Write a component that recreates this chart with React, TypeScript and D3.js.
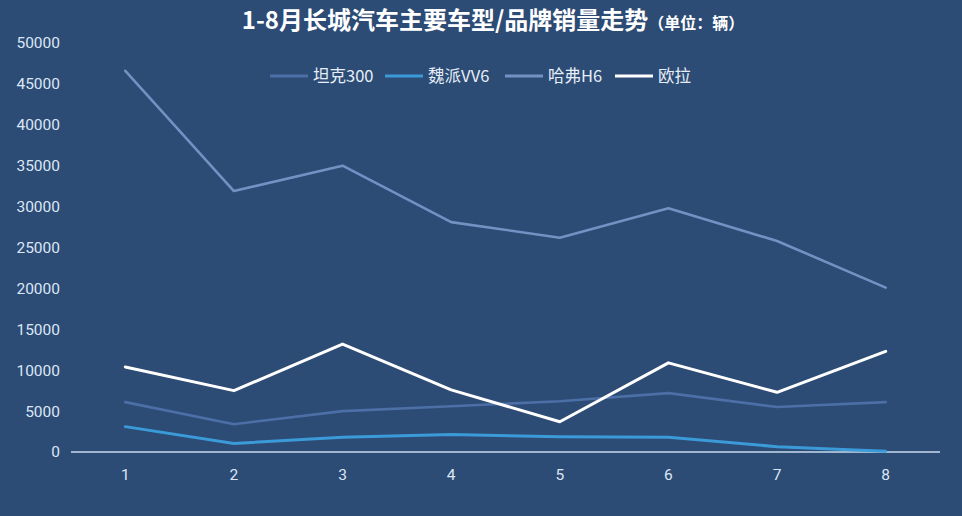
import React from "react";
import * as d3 from "d3";

const months = ["1", "2", "3", "4", "5", "6", "7", "8"];
const tank300 = [6100, 3400, 5000, 5600, 6200, 7200, 5500, 6100];
const weyVV6 = [3100, 1050, 1800, 2150, 1850, 1800, 650, 100];
const havalH6 = [46600, 31900, 35000, 28100, 26200, 29800, 25800, 20100];
const ora = [10400, 7500, 13200, 7600, 3700, 10900, 7300, 12300];
const yTicks = [0, 5000, 10000, 15000, 20000, 25000, 30000, 35000, 40000, 45000, 50000];
const seriesNames = ["坦克300", "魏派VV6", "哈弗H6", "欧拉"];

const W = 962;
const H = 516;
const margin = { left: 71, right: 22, top: 43, bottom: 64 };

export default function App() {
  const x = d3
    .scaleBand<string>()
    .domain(months)
    .range([margin.left, W - margin.right]);
  const y = d3
    .scaleLinear()
    .domain([0, 50000])
    .range([H - margin.bottom, margin.top]);
  const cx = (m: string) => (x(m) ?? 0) + x.bandwidth() / 2;
  const line = d3
    .line<number>()
    .x((_, i) => cx(months[i]))
    .y((v) => y(v));

  const series = [
    { name: seriesNames[0], data: tank300, color: "#4b6fa6", width: 2.6 },
    { name: seriesNames[1], data: weyVV6, color: "#3b9ad8", width: 3 },
    { name: seriesNames[2], data: havalH6, color: "#7391c2", width: 2.6 },
    { name: seriesNames[3], data: ora, color: "#ffffff", width: 3 },
  ];
  const legendX = [270, 385, 505, 615];
  const font = "'Noto Sans CJK SC', 'Noto Sans', sans-serif";

  return (
    <div style={{ position: "fixed", left: 0, top: 0, width: W, height: H }}>
      <svg width={W} height={H} style={{ display: "block" }}>
        <rect x={0} y={0} width={W} height={H} fill="#2c4b75" />
        <text
          x={493}
          y={21}
          dy="0.35em"
          textAnchor="middle"
          fill="#ffffff"
          fontFamily={font}
          fontWeight="bold"
          fontSize={24}
        >
          1-8月长城汽车主要车型/品牌销量走势
          <tspan fontSize={16} fontWeight="bold">（单位：辆）</tspan>
        </text>
        {yTicks.map((t) => (
          <text
            key={t}
            x={60}
            y={y(t)}
            dy="0.35em"
            textAnchor="end"
            fill="#dbe7f5"
            fontFamily="Roboto, sans-serif"
            fontSize={15.5}
          >
            {t}
          </text>
        ))}
        <line
          x1={margin.left}
          x2={W - margin.right}
          y1={y(0)}
          y2={y(0)}
          stroke="#c9dbef"
          strokeWidth={1.5}
        />
        {months.map((m) => (
          <text
            key={m}
            x={cx(m)}
            y={y(0) + 23}
            dy="0.35em"
            textAnchor="middle"
            fill="#dbe7f5"
            fontFamily="Roboto, sans-serif"
            fontSize={15.5}
          >
            {m}
          </text>
        ))}
        {series.map((s) => (
          <path
            key={s.name}
            d={line(s.data) ?? ""}
            fill="none"
            stroke={s.color}
            strokeWidth={s.width}
            strokeLinejoin="round"
            strokeLinecap="round"
          />
        ))}
        {series.map((s, i) => (
          <g key={s.name} transform={`translate(${legendX[i]},76)`}>
            <line x1={0} x2={38} y1={0} y2={0} stroke={s.color} strokeWidth={3} />
            <text
              x={43}
              y={0}
              dy="0.35em"
              fill="#e6eef8"
              fontFamily={font}
              fontSize={16.5}
            >
              {s.name}
            </text>
          </g>
        ))}
      </svg>
    </div>
  );
}
